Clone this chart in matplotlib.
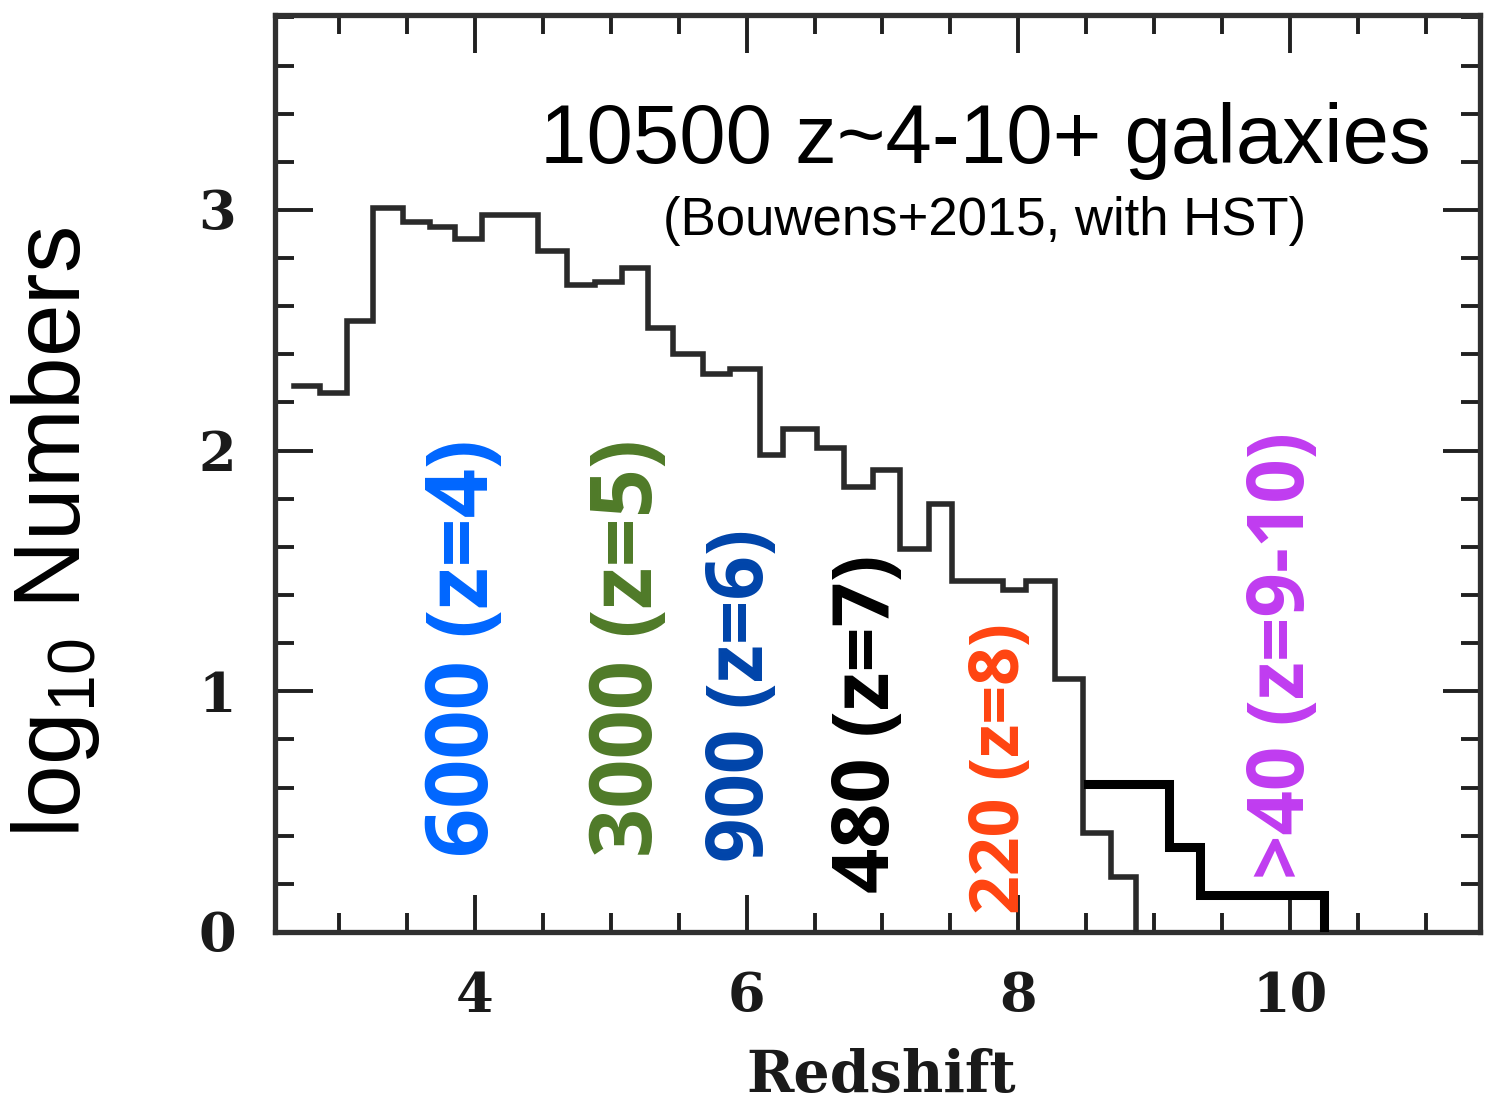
import matplotlib
matplotlib.use("Agg")
import matplotlib.pyplot as plt
from matplotlib.ticker import MultipleLocator, FixedLocator

# ---------------- data ----------------
# thin histogram (all galaxies), bin edges in redshift and log10 counts
bin_edges = [2.67, 2.86, 3.06, 3.25, 3.47, 3.67, 3.85, 4.05, 4.26, 4.46, 4.68,
             4.88, 5.08, 5.27, 5.46, 5.68, 5.88, 6.10, 6.27, 6.52, 6.72, 6.93,
             7.13, 7.34, 7.51, 7.71, 7.89, 8.06, 8.27, 8.48, 8.68, 8.87]
log_counts = [2.27, 2.24, 2.54, 3.01, 2.95, 2.93, 2.88, 2.98, 2.98, 2.83, 2.69,
              2.70, 2.76, 2.51, 2.40, 2.32, 2.34, 1.98, 2.09, 2.01, 1.85, 1.92,
              1.59, 1.78, 1.46, 1.46, 1.42, 1.46, 1.05, 0.41, 0.23]

# bold histogram (z~9-10 sample)
hi_edges = [8.51, 9.11, 9.34, 10.25]
hi_counts = [0.615, 0.353, 0.154]

# annotations
labels = ["6000 (z=4)", "3000 (z=5)", "900 (z=6)", "480 (z=7)", "220 (z=8)", ">40 (z=9-10)"]
label_x = [3.93, 5.14, 5.97, 6.90, 7.87, 9.95]
label_y = [0.31, 0.31, 0.29, 0.16, 0.075, 0.22]
label_colors = ["#0066ff", "#4f7a28", "#0044aa", "#000000", "#ff4411", "#c03cf0"]
label_sizes = [62, 62, 56, 57, 49, 56]

x_major = [4, 6, 8, 10]
y_major = [0, 1, 2, 3]

title = "10500 z~4-10+ galaxies"
subtitle = "(Bouwens+2015, with HST)"

# ---------------- figure ----------------
plt.rcParams['mathtext.default'] = 'regular'
W, H = 1489, 1104
fig = plt.figure(figsize=(W / 100, H / 100), dpi=100)
ax = fig.add_axes([275 / W, 1 - 932 / H, (1480 - 275) / W, (932 - 15) / H])
ax.set_xlim(2.527, 11.40)
ax.set_ylim(0, 3.81)

# thin histogram
xs = bin_edges + [bin_edges[-1]]
ys = log_counts + [log_counts[-1], 0]
ax.plot(xs, ys, drawstyle='steps-post', color='#2a2a2a', lw=4.0,
        solid_joinstyle='miter', zorder=3)

# bold histogram
xb = hi_edges + [hi_edges[-1]]
yb = hi_counts + [hi_counts[-1], 0]
ax.plot(xb, yb, drawstyle='steps-post', color='black', lw=6.5,
        solid_joinstyle='miter', zorder=4)

# spines and ticks
for s in ax.spines.values():
    s.set_linewidth(3.8)
    s.set_color('#303030')
ax.xaxis.set_major_locator(FixedLocator(x_major))
ax.xaxis.set_minor_locator(MultipleLocator(0.5))
ax.yaxis.set_major_locator(FixedLocator(y_major))
ax.yaxis.set_minor_locator(MultipleLocator(0.2))
ax.tick_params(which='both', direction='in', top=True, right=True,
               color='#202020')
ax.tick_params(which='major', length=27, width=2.8, pad=28)
ax.tick_params(which='minor', length=14, width=2.8)
for lab in ax.get_xticklabels() + ax.get_yticklabels():
    lab.set_fontfamily('DejaVu Serif')
    lab.set_fontweight('bold')
    lab.set_fontsize(39)
    lab.set_color('#1a1a1a')

# titles
ax.text(7.76, 3.195, title, fontsize=60, family='Liberation Sans',
        ha='center', va='baseline', color='black')
ax.text(7.75, 2.896, subtitle, fontsize=38, family='Liberation Sans',
        ha='center', va='baseline', color='black')

# rotated labels
for t, x, y, c, fs in zip(labels, label_x, label_y, label_colors, label_sizes):
    ax.text(x, y, t, rotation=90, ha='center', va='bottom', color=c,
            fontsize=fs, family='Open Sans', fontweight='bold', zorder=5)

# axis labels
fig.text(56 / W, 1 - 532 / H, r'log$_{10}$ Numbers', rotation=90,
         fontsize=68, family='Liberation Sans', ha='center', va='center')
fig.text(881 / W, 1 - 1092 / H, 'Redshift', fontsize=41, family='DejaVu Serif',
         fontweight='bold', ha='center', va='baseline', color='#1a1a1a')

fig.savefig('out.png', dpi=100)
